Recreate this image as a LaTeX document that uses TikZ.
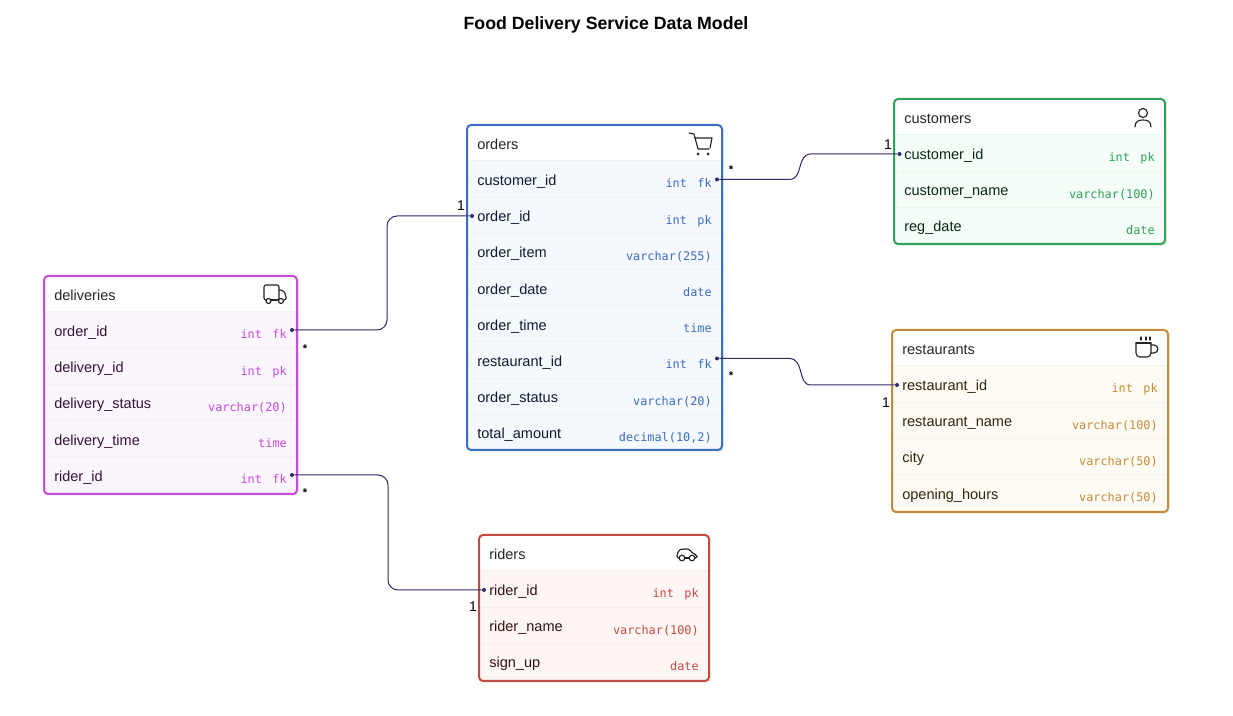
\documentclass[tikz,border=0pt]{standalone}
\usepackage{fontspec}
\setmainfont{Liberation Sans}
\setmonofont{DejaVu Sans Mono}
\usepackage{tikz}
\usetikzlibrary{positioning}
\tikzstyle{diagram} = [x = .75pt, y = -.75pt]
\definecolor{ordersColor}{HTML}{3B6DC2}
\definecolor{customersColor}{HTML}{2FA35A}
\definecolor{restaurantsColor}{HTML}{C48B3A}
\definecolor{deliveriesColor}{HTML}{C64BD6}
\definecolor{ridersColor}{HTML}{C44A42}
\definecolor{ordersColorFill}{HTML}{F5F8FD}
\definecolor{customersColorFill}{HTML}{F4FDF7}
\definecolor{restaurantsColorFill}{HTML}{FEFBF5}
\definecolor{deliveriesColorFill}{HTML}{FBF5FD}
\definecolor{ridersColorFill}{HTML}{FEF6F5}
\definecolor{relationColor}{HTML}{2E2A6B}
\definecolor{iconColor}{HTML}{222222}
\tikzstyle{titleText} = [font=\fontsize{13.3}{16}\selectfont\bfseries, text=black]
\tikzstyle{tableTitle} = [font=\fontsize{10.9}{12}\selectfont, anchor=base west, inner sep=0pt, text=black!85]
\tikzstyle{rowName} = [font=\fontsize{10.9}{12}\selectfont, anchor=base west, inner sep=0pt]
\tikzstyle{rowType} = [font=\fontsize{8.9}{11}\ttfamily, anchor=base east, inner sep=0pt]
\tikzstyle{relationLine} = [color=relationColor, line width=.75pt]
\tikzstyle{portDot} = [circle, fill=relationColor, inner sep=0pt, minimum size=3pt]
\tikzstyle{cardText} = [font=\fontsize{10.5}{12}\selectfont, inner sep=0pt, text=black]
\tikzstyle{manyText} = [font=\fontsize{8.5}{10}\selectfont\bfseries, inner sep=0pt, text=black]
\tikzstyle{iconLine} = [draw=iconColor, line width=.85pt, line join=round, line cap=round]
\newcommand{\kindGap}{\hspace{2.5pt}}
\newcommand{\dbTable}[7]{
  \fill [black!6, rounded corners=2.5pt] (#3 + 2, #4 + 2) rectangle (#5 + 2, #6 + 2);
  \begin{scope}
    \clip [rounded corners=3pt] (#3, #4) rectangle (#5, #6);
    \fill [white] (#3, #4) rectangle (#5, #4 + 36);
    \fill [#2Fill] (#3, #4 + 36) rectangle (#5, #6);
  \end{scope}
  \node [tableTitle] (#1-title) at (#3 + 10, #4 + 24.5) {#1};
  \foreach \rowLabel/\rowKind [count=\rowIdx] in {#7} {
    \pgfmathsetmacro{\rowTop}{#4 + 36 + (\rowIdx - 1) * 36.2}
    \draw [#2!10, line width=.75pt] (#3, \rowTop) -- (#5, \rowTop);
    \node [rowName, text=#2!25!black] (#1-name-\rowIdx) at (#3 + 10, \rowTop + 24.5) {\rowLabel};
    \node [rowType, text=#2] (#1-type-\rowIdx) at (#5 - 10, \rowTop + 27) {\rowKind};
  }
  \draw [#2, line width=1.5pt, rounded corners=3pt] (#3, #4) rectangle (#5, #6);
}
\newcommand{\cartIcon}[2]{
  \begin{scope}[shift={(#1,#2)}]
    \draw [iconLine] (0,0) -- (5,1) -- (9,16) -- (20,16);
    \draw [iconLine] (6,5) -- (23,5) -- (21,15);
    \fill [iconColor] (9,21) circle (1.5) (19,21) circle (1.5);
  \end{scope}
}
\newcommand{\personIcon}[2]{
  \begin{scope}[shift={(#1,#2)}]
    \draw [iconLine] (0,0) circle (4.5);
    \draw [iconLine] (-8,14) .. controls (-8,8) and (-4,7) .. (0,7) .. controls (4,7) and (8,8) .. (8,14);
  \end{scope}
}
\newcommand{\cupIcon}[2]{
  \begin{scope}[shift={(#1,#2)}]
    \draw [iconLine] (5,0) -- (5,3) (10,0) -- (10,3) (14,0) -- (14,3);
    \draw [iconLine] (0,6) -- (15,6);
    \draw [iconLine, rounded corners=3pt] (0,6) -- (0,20) -- (15,20) -- (15,6);
    \draw [iconLine] (15,8) -- (18,8) .. controls (23,8) and (23,16) .. (18,16) -- (15,16);
  \end{scope}
}
\newcommand{\truckIcon}[2]{
  \begin{scope}[shift={(#1,#2)}]
    \draw [iconLine, rounded corners=1.5pt] (2,15) -- (0,15) -- (0,0) -- (15,0) -- (15,15) -- (13,15);
    \draw [iconLine] (7,15) -- (13,15);
    \draw [iconLine, rounded corners=1.5pt] (15,5) -- (19,5) -- (22,10) -- (22,15) -- (20,15);
    \draw [iconLine, fill=white] (4.5,16) circle (2.5) (17,16) circle (2.5);
  \end{scope}
}
\newcommand{\carIcon}[2]{
  \begin{scope}[shift={(#1,#2)}]
    \draw [iconLine, rounded corners=1.5pt] (1.5,9) -- (0,9) -- (0,5) .. controls (3,0) and (4,0) .. (9,0) .. controls (13,0) and (14,3) .. (17,5) -- (20,6) -- (20,9) -- (18,9);
    \draw [iconLine] (8,9) -- (12,9);
    \draw [iconLine] (5,9) circle (2.8) (15,9) circle (2.8);
  \end{scope}
}

\begin{document}
\begin{tikzpicture}[diagram]
  \useasboundingbox [fill=white] (0,0) rectangle (1233,716);
  \node [titleText] (diagramTitle) at (606,25) {Food Delivery Service Data Model};

  \dbTable{orders}{ordersColor}{467}{125}{722}{450}{customer\_id/int\kindGap{} fk, order\_id/int\kindGap{} pk, order\_item/varchar(255), order\_date/date, order\_time/time, restaurant\_id/int\kindGap{} fk, order\_status/varchar(20), total\_amount/{decimal(10,2)}}
  \dbTable{customers}{customersColor}{894}{99}{1165}{244}{customer\_id/int\kindGap{} pk, customer\_name/varchar(100), reg\_date/date}
  \dbTable{restaurants}{restaurantsColor}{892}{330}{1168}{512}{restaurant\_id/int\kindGap{} pk, restaurant\_name/varchar(100), city/varchar(50), opening\_hours/varchar(50)}
  \dbTable{deliveries}{deliveriesColor}{44}{276}{297}{494}{order\_id/int\kindGap{} fk, delivery\_id/int\kindGap{} pk, delivery\_status/varchar(20), delivery\_time/time, rider\_id/int\kindGap{} fk}
  \dbTable{riders}{ridersColor}{479}{535}{709}{681}{rider\_id/int\kindGap{} pk, rider\_name/varchar(100), sign\_up/date}

  \cartIcon{689}{133}
  \personIcon{1143}{113}
  \cupIcon{1136}{337}
  \truckIcon{264}{285}
  \carIcon{677}{549}

  \node [portDot] (ordersCustomerPort) at (717,179.5) {};
  \node [portDot] (customersPort) at (899.5,154) {};
  \node [portDot] (ordersRestaurantPort) at (717,358.5) {};
  \node [portDot] (restaurantsPort) at (897,385) {};
  \node [portDot] (deliveriesOrderPort) at (292,330) {};
  \node [portDot] (ordersPort) at (472,216) {};
  \node [portDot] (deliveriesRiderPort) at (292,475) {};
  \node [portDot] (ridersPort) at (484,590) {};

  \coordinate (customerCurveIn) at (789,179.5);
  \coordinate (customerCurveOut) at (811,154);
  \coordinate (restaurantCurveIn) at (789,358.5);
  \coordinate (restaurantCurveOut) at (811,385);
  \coordinate (orderCorner) at (387,216);
  \coordinate (riderCorner) at (388,590);

  \draw [relationLine] (ordersCustomerPort) -- (customerCurveIn) .. controls (804,179.5) and (796,154) .. (customerCurveOut) -- (customersPort);
  \draw [relationLine] (ordersRestaurantPort) -- (restaurantCurveIn) .. controls (805,358.5) and (797,385) .. (restaurantCurveOut) -- (restaurantsPort);
  \draw [relationLine, rounded corners=7.5pt] (deliveriesOrderPort) -| (orderCorner) -- (ordersPort);
  \draw [relationLine, rounded corners=7.5pt] (deliveriesRiderPort) -| (riderCorner) -- (ridersPort);

  \node [cardText] (customersOne) at (888,145) {1};
  \node [cardText] (restaurantsOne) at (886,403) {1};
  \node [cardText] (ordersOne) at (461,206) {1};
  \node [cardText] (ridersOne) at (473,607) {1};
  \node [manyText] (ordersManyTop) at (731,169.5) {*};
  \node [manyText] (ordersManyLow) at (731,375.5) {*};
  \node [manyText] (deliveriesManyTop) at (305,348.5) {*};
  \node [manyText] (deliveriesManyLow) at (305,492.5) {*};
\end{tikzpicture}
\end{document}
